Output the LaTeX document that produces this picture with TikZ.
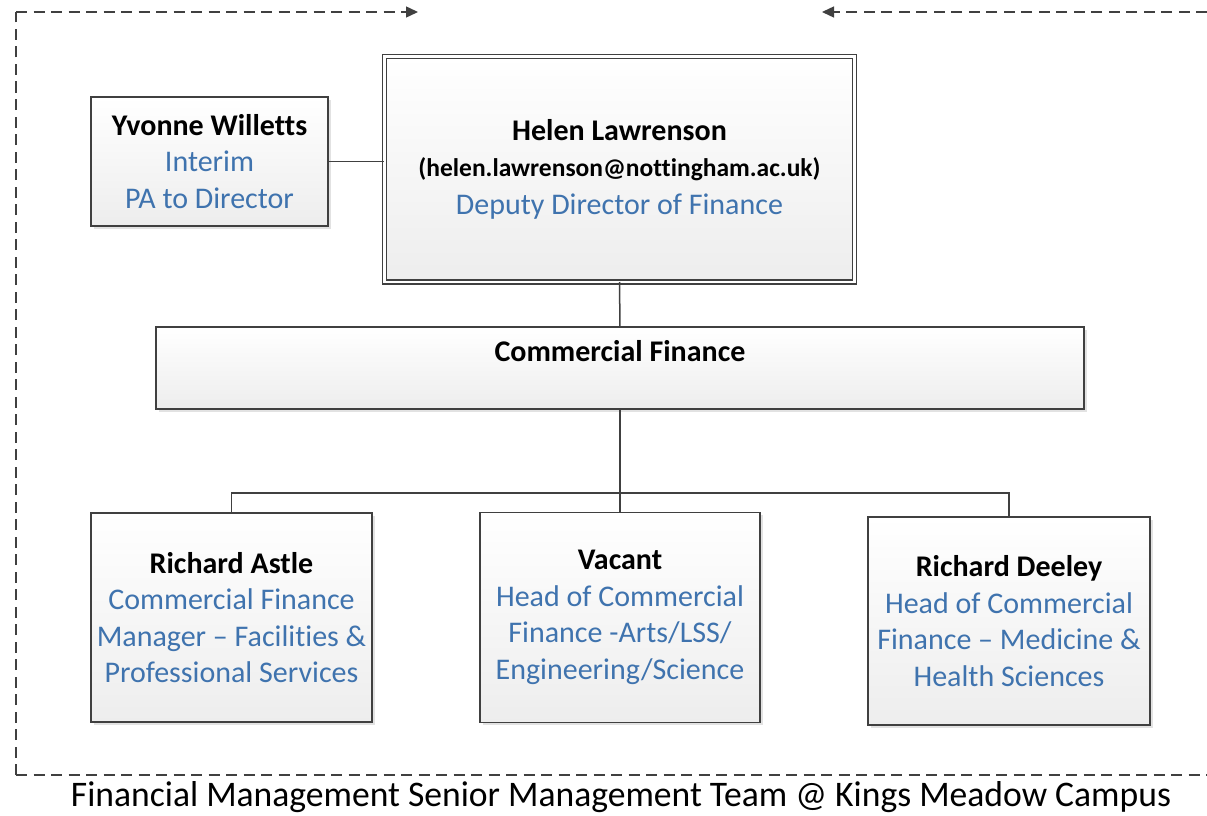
\documentclass[tikz,border=0pt]{standalone}
\usepackage{fontspec}
\setmainfont{Carlito}[Ligatures={NoCommon}]
\usetikzlibrary{arrows.meta,shadows}
\definecolor{lnc}{HTML}{404040}
\definecolor{blu}{HTML}{3F73AE}
\tikzset{
  box/.style={draw=lnc, line width=1.4pt, inner sep=0pt, outer sep=0pt,
    top color=white, bottom color=black!7, align=center,
    drop shadow={shadow xshift=2.5pt, shadow yshift=-2.5pt, fill=black!25, opacity=.45},
    font=\fontsize{30}{36.5}\selectfont},
  conn/.style={draw=lnc, line width=1.5pt},
  frame/.style={draw=lnc, line width=1.4pt, dash pattern=on 11pt off 6.5pt},
  tip/.style={-{Triangle[length=12pt,width=11pt]}},
  role/.style={text=blu}
}
\begin{document}
\begin{tikzpicture}[x=1pt,y=-1pt]
\useasboundingbox (0,0) rectangle (1207,816);
% frame
\coordinate (tl) at (16,12);
\coordinate (bl) at (16,775);
\coordinate (br) at (1207,775);
\coordinate (tr) at (1207,12);
\coordinate (al) at (418,12);
\coordinate (ar) at (822,12);
\draw[frame] (bl) -- (tl);
\draw[frame,tip] (tl) -- (al);
\draw[frame,tip] (tr) -- (ar);
\draw[frame] (bl) -- (br);
% boxes
\node[box, double=white, double distance=2.6pt, minimum width=470.5pt, minimum height=225.5pt] (helen) at (619.5,169.25)
  {\textbf{Helen Lawrenson}\\[0pt]{\fontsize{25.5}{30}\selectfont\textbf{(helen.lawrenson@nottingham.ac.uk)}}\\[1pt]\textcolor{blu}{Deputy Director of Finance}};
\node[box, minimum width=237pt, minimum height=129pt] (yv) at (209.5,161.5)
  {\textbf{Yvonne Willetts}\\\textcolor{blu}{Interim}\\\textcolor{blu}{PA to Director}};
\node[box, minimum width=928pt, minimum height=82pt] (cf) at (620,368) {};
\node[font=\fontsize{30}{36}\selectfont\bfseries] (cflabel) at (620,351) {Commercial Finance};
\node[box, minimum width=281pt, minimum height=209pt] (ra) at (231.5,617.5)
  {\textbf{Richard Astle}\\\textcolor{blu}{Commercial Finance}\\\textcolor{blu}{Manager -- Facilities \&}\\\textcolor{blu}{Professional Services}};
\node[box, minimum width=280pt, minimum height=210pt] (va) at (620,617.5)
  {\textbf{Vacant}\\\textcolor{blu}{Head of Commercial}\\\textcolor{blu}{Finance -Arts/LSS/}\\\textcolor{blu}{Engineering/Science}};
\node[box, minimum width=282pt, minimum height=208pt] (rd) at (1009,621)
  {\textbf{Richard Deeley}\\\textcolor{blu}{Head of Commercial}\\\textcolor{blu}{Finance -- Medicine \&}\\\textcolor{blu}{Health Sciences}};
% connectors
\draw[conn] (yv.east) -- (yv.east -| helen.west);
\draw[conn] (helen.south) -- (cf.north);
\coordinate (bus) at (620,493);
\draw[conn] (cf.south) -- (bus);
\draw[conn] (ra.north) |- (bus) -| (rd.north);
\draw[conn] (bus) -- (va.north);
% caption
\node[inner sep=0pt, anchor=base] (cap) at (621,806) {\resizebox{1100pt}{25pt}{\fontsize{36}{40}\selectfont Financial Management Senior Management Team @ Kings Meadow Campus}};
\end{tikzpicture}
\end{document}
